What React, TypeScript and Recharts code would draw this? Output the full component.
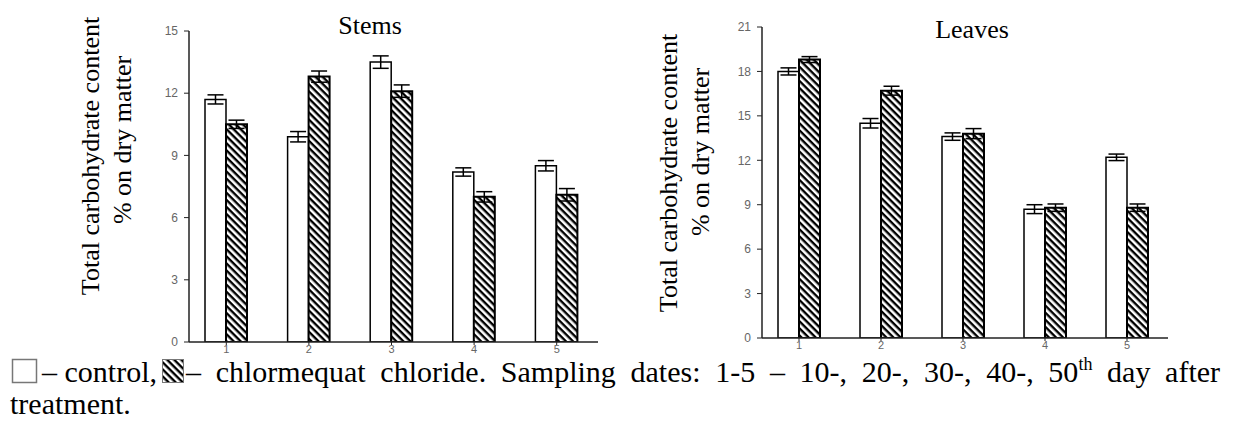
import React from "react";
import { BarChart, Bar, XAxis, YAxis, ErrorBar } from "recharts";

// sampling dates 1-5 (10th..50th day after treatment)
const samplingDates = ["1", "2", "3", "4", "5"];

const stemsControl = [11.7, 9.9, 13.5, 8.2, 8.5];
const stemsControlErr = [0.22, 0.25, 0.3, 0.2, 0.25];
const stemsCcc = [10.5, 12.8, 12.1, 7.0, 7.1];
const stemsCccErr = [0.2, 0.27, 0.3, 0.25, 0.3];

const leavesControl = [18.0, 14.5, 13.6, 8.7, 12.2];
const leavesControlErr = [0.24, 0.32, 0.25, 0.3, 0.22];
const leavesCcc = [18.8, 16.7, 13.8, 8.8, 8.8];
const leavesCccErr = [0.2, 0.3, 0.34, 0.25, 0.25];

const stemsTicks = [0, 3, 6, 9, 12, 15];
const leavesTicks = [0, 3, 6, 9, 12, 15, 18, 21];

const SERIF = "Liberation Serif, Times New Roman, Times, serif";
const SANS = "Liberation Sans, Arial, sans-serif";

function build(ctrl: number[], ctrlErr: number[], ccc: number[], cccErr: number[]) {
  return samplingDates.map((d, i) => ({
    date: d,
    control: ctrl[i],
    controlErr: ctrlErr[i],
    ccc: ccc[i],
    cccErr: cccErr[i],
  }));
}

const stemsData = build(stemsControl, stemsControlErr, stemsCcc, stemsCccErr);
const leavesData = build(leavesControl, leavesControlErr, leavesCcc, leavesCccErr);

const yTickStyle = { fontSize: 12, fill: "#666", fontFamily: SANS };
const xTickStyle = { fontSize: 11, fill: "#666", fontFamily: SANS };
const serifText = { fontFamily: SERIF, fontSize: 26, fill: "#000" };
const legendText = { fontFamily: SERIF, fontSize: 30, fill: "#000" };

function Hatch({ id }: { id: string }) {
  return (
    <pattern
      id={id}
      patternUnits="userSpaceOnUse"
      width={5}
      height={5}
      patternTransform="rotate(45)"
    >
      <rect width={5} height={5} fill="#fff" />
      <rect width={5} height={2.4} fill="#000" />
    </pattern>
  );
}

function Panel({
  id,
  data,
  ticks,
  max,
  width,
  height,
  margin,
}: {
  id: string;
  data: typeof stemsData;
  ticks: number[];
  max: number;
  width: number;
  height: number;
  margin: { top: number; right: number; bottom: number; left: number };
}) {
  return (
    <BarChart
      width={width}
      height={height}
      data={data}
      margin={margin}
      barGap={0}
      barSize={21}
    >
      <defs>
        <Hatch id={id} />
      </defs>
      <XAxis
        dataKey="date"
        tick={xTickStyle}
        tickSize={3}
        tickMargin={0}
        height={30}
        padding={{ left: -4, right: 0 }}
        axisLine={{ stroke: "#222", strokeWidth: 1.5 }}
        tickLine={{ stroke: "#222" }}
      />
      <YAxis
        domain={[0, max]}
        ticks={ticks}
        width={60}
        tick={yTickStyle}
        tickSize={5}
        tickMargin={6}
        allowDataOverflow
        axisLine={{ stroke: "#222", strokeWidth: 1.5 }}
        tickLine={{ stroke: "#222" }}
      />
      <Bar
        dataKey="control"
        fill="#fff"
        stroke="#000"
        strokeWidth={1.5}
        isAnimationActive={false}
      >
        <ErrorBar dataKey="controlErr" width={8} stroke="#000" strokeWidth={1.5} />
      </Bar>
      <Bar
        dataKey="ccc"
        fill={`url(#${id})`}
        stroke="#000"
        strokeWidth={2}
        isAnimationActive={false}
      >
        <ErrorBar dataKey="cccErr" width={8} stroke="#000" strokeWidth={1.5} />
      </Bar>
    </BarChart>
  );
}

export default function App() {
  return (
    <div
      style={{
        position: "absolute",
        left: 0,
        top: 0,
        width: 1234,
        height: 428,
        background: "#fff",
        overflow: "hidden",
      }}
    >
      <div style={{ position: "absolute", left: 0, top: 0 }}>
        <Panel
          id="hatchStems"
          data={stemsData}
          ticks={stemsTicks}
          max={15}
          width={620}
          height={372}
          margin={{ top: 31, right: 22, bottom: 0, left: 129 }}
        />
      </div>
      <div style={{ position: "absolute", left: 600, top: 0 }}>
        <Panel
          id="hatchLeaves"
          data={leavesData}
          ticks={leavesTicks}
          max={21}
          width={600}
          height={368}
          margin={{ top: 27, right: 32, bottom: 0, left: 102 }}
        />
      </div>
      <svg
        width={1234}
        height={428}
        style={{ position: "absolute", left: 0, top: 0, pointerEvents: "none" }}
      >
        <defs>
          <Hatch id="hatchLegend" />
        </defs>
        <text x={370} y={34} style={serifText} textAnchor="middle">Stems</text>
        <text x={972} y={38} style={serifText} textAnchor="middle">Leaves</text>

        <text transform="translate(99,156) rotate(-90)" style={serifText} textAnchor="middle">
          Total carbohydrate content
        </text>
        <text transform="translate(131,140) rotate(-90)" style={serifText} textAnchor="middle">
          % on dry matter
        </text>
        <text transform="translate(677,173) rotate(-90)" style={serifText} textAnchor="middle">
          Total carbohydrate content
        </text>
        <text transform="translate(709,152) rotate(-90)" style={serifText} textAnchor="middle">
          % on dry matter
        </text>

        <rect x={12.5} y={359.5} width={24} height={23} fill="#fff" stroke="#777" strokeWidth={1.5} />
        <text x={42} y={382} style={legendText}>– control,</text>
        <rect x={162.5} y={359.5} width={21} height={23} fill="url(#hatchLegend)" stroke="#777" strokeWidth={1} />
        <text x={186} y={382} style={{ ...legendText, wordSpacing: 7.2 }}>
          – chlormequat chloride. Sampling dates: 1-5 – 10-, 20-, 30-, 40-, 50
          <tspan dy={-12} style={{ fontSize: 18 }}>th</tspan>
          <tspan dy={12}> day after</tspan>
        </text>
        <text x={10} y={414} style={legendText}>treatment.</text>
      </svg>
    </div>
  );
}
